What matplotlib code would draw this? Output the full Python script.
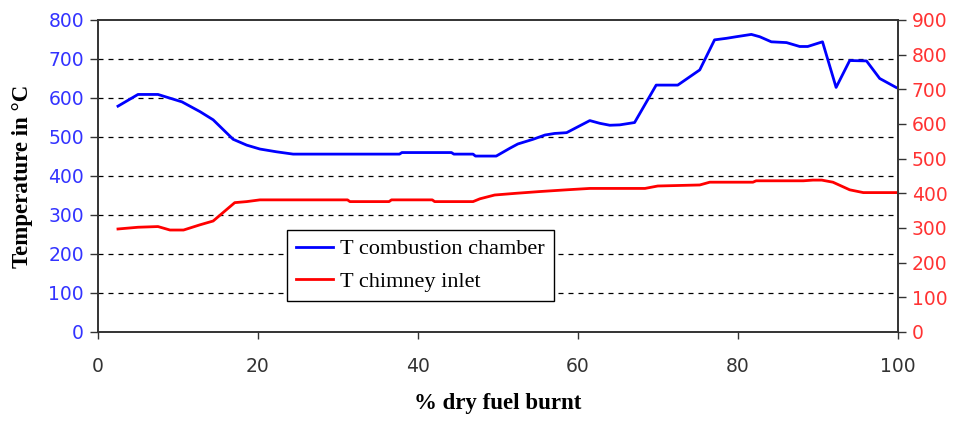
import matplotlib
matplotlib.use('Agg')
import matplotlib.pyplot as plt

# % dry fuel burnt vs temperature
x_chamber = [2.5, 5, 7.5, 10.5, 12.75, 14.4, 16.9, 18.6, 20.25, 22.3, 24.4, 37.7, 38.0,
             44.2, 44.5, 46.9, 47.2, 49.8, 51.5, 52.5, 54.4, 55.9, 57.1, 58.6, 60, 61.5,
             62.75, 64, 65.25, 67.1, 69.8, 72.5, 75.25, 77.1, 78.6, 79.8, 81.7, 82.75,
             84.2, 86.1, 87.75, 88.75, 90.6, 92.3, 94, 96.1, 97.75, 99.8]
t_chamber = [579, 609, 609, 590, 565, 544, 494, 479, 469, 462, 456, 456, 460,
             460, 456, 456, 451, 451, 471, 482, 494, 505, 509, 511, 526, 542,
             535, 530, 531, 537, 633, 633, 672, 749, 753, 757, 763, 757,
             744, 742, 732, 732, 744, 627, 696, 695, 650, 627]

x_chimney = [2.5, 5, 7.5, 9, 10.7, 12.75, 14.4, 17.1, 18.6, 20.25, 31.2, 31.5, 36.4,
             36.7, 41.8, 42.1, 46.9, 47.75, 49.6, 52.3, 55.25, 58.6, 61.5, 68.4, 70,
             75.25, 76.5, 81.9, 82.3, 88.2, 89.4, 90.5, 91.9, 94, 95.7, 99.8]
t_chimney = [297, 302, 304, 294, 294, 309, 320, 373, 376, 381, 381, 376, 376,
             381, 381, 376, 376, 384, 395, 400, 405, 410, 414, 414, 421,
             424, 432, 432, 436, 436, 438, 438, 432, 410, 402, 402]

left_ticks = [0, 100, 200, 300, 400, 500, 600, 700, 800]
right_ticks = [0, 100, 200, 300, 400, 500, 600, 700, 800, 900]
x_ticks = [0, 20, 40, 60, 80, 100]

serif = ['Liberation Serif', 'DejaVu Serif']

fig = plt.figure(figsize=(9.56, 4.25), dpi=100)
ax = fig.add_axes([0.1025, 0.219, 0.8365, 0.734])
ax2 = ax.twinx()

l1, = ax.plot(x_chamber, t_chamber, color='#0000ff', lw=2.0, label='T combustion chamber')
l2, = ax2.plot(x_chimney, t_chimney, color='#ff0000', lw=2.0, label='T chimney inlet')

ax.set_xlim(0, 100)
ax.set_ylim(0, 800)
ax2.set_ylim(0, 900)
ax.set_xticks(x_ticks)
ax.set_yticks(left_ticks)
ax2.set_yticks(right_ticks)

for yv in left_ticks[1:-1]:
    ax.axhline(yv, color='black', lw=0.9, ls=(0, (4, 4)), zorder=0)

ax.tick_params(axis='y', colors='#3333ff', labelsize=13.5, direction='out', length=6, width=1, pad=4)
ax.tick_params(axis='x', colors='#333333', labelsize=13.5, direction='out', length=5, width=1, pad=13)
ax2.tick_params(axis='y', colors='#ff3333', labelsize=13.5, direction='out', length=6, width=1, pad=4)
for a in (ax, ax2):
    for s in a.spines.values():
        s.set_color('#333333')
        s.set_linewidth(1.2)
ax.tick_params(axis='both', color='#333333')
ax2.tick_params(axis='y', color='#333333')

ax.set_xlabel('% dry fuel burnt', family=serif, fontweight='bold', fontsize=16.5, labelpad=12)
ax.set_ylabel('Temperature in °C', family=serif, fontweight='bold', fontsize=16.5, labelpad=11)

# legend sits on the twin axes so it covers the gridlines
leg = ax2.legend(handles=[l1, l2], loc='lower left', bbox_to_anchor=(0.236, 0.099),
                 borderaxespad=0, framealpha=1,
                 prop={'family': serif, 'size': 16}, frameon=True, fancybox=False,
                 handlelength=1.7, borderpad=0.4, labelspacing=0.55, handletextpad=0.3)
leg.get_frame().set_edgecolor('black')
leg.get_frame().set_linewidth(1.0)

fig.savefig('out.png', dpi=100)
